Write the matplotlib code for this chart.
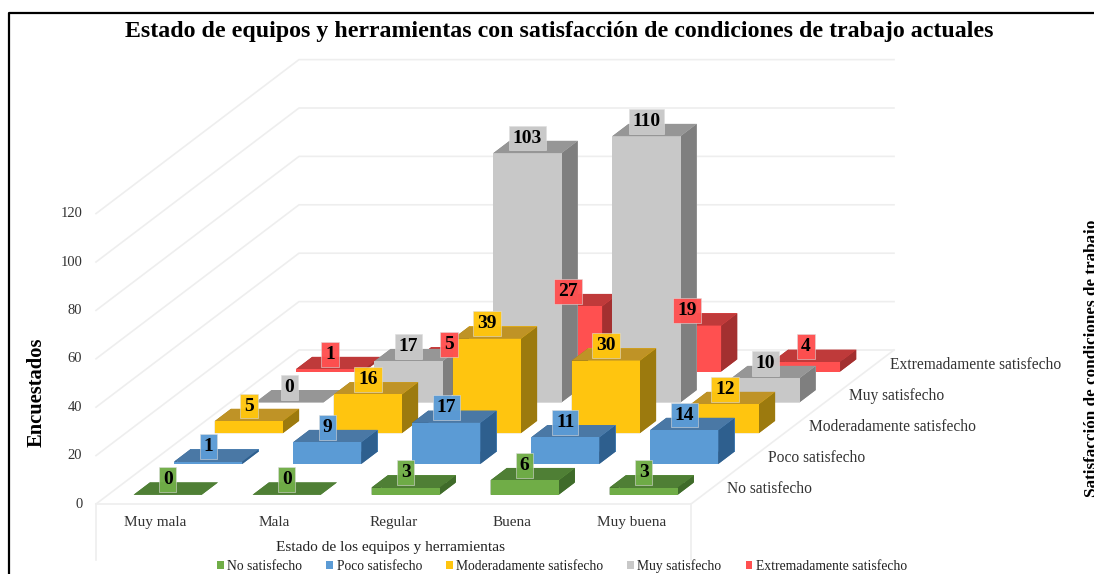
"""
3D column chart: state of tools vs. satisfaction with working conditions.
Uses mplot3d with a fixed oblique projection, as the spreadsheet chart does.
"""

import numpy as np
import matplotlib
matplotlib.use('Agg')
import matplotlib.pyplot as plt
from matplotlib.lines import Line2D
from matplotlib.patches import Patch
from mpl_toolkits.mplot3d import proj3d

plt.rcParams['font.family'] = ['Liberation Serif', 'DejaVu Serif']

# ===== DATA =====

categories = ['Muy mala', 'Mala', 'Regular', 'Buena', 'Muy buena']
series = ['No satisfecho', 'Poco satisfecho', 'Moderadamente satisfecho',
          'Muy satisfecho', 'Extremadamente satisfecho']

no_satisfecho   = [0, 0, 3, 6, 3]
poco_satisfecho = [1, 9, 17, 11, 14]
moderadamente   = [5, 16, 39, 30, 12]
muy_satisfecho  = [0, 17, 103, 110, 10]
extremadamente  = [1, 5, 27, 19, 4]
values = [no_satisfecho, poco_satisfecho, moderadamente, muy_satisfecho, extremadamente]

z_ticks = [0, 20, 40, 60, 80, 100, 120]

# ===== STYLE =====

W, H = 1094, 574

# (front, top, side) colours per series
colors = [('#70AD47', '#4F7F35', '#3F6B2A'),
          ('#5B9BD5', '#4A78A5', '#2E5F8E'),
          ('#FFC50F', '#BF9326', '#9C7A0E'),
          ('#C8C8C8', '#969696', '#7F7F7F'),
          ('#FF5050', '#BF3A3A', '#A33030')]

bar_w = 0.572  # fraction of a category cell
bar_d = 0.40   # fraction of a series row
grid_color = '#EEEEEE'
text_color = '#333333'

# projection: pixels per unit of the data
x0, y0 = 96, 504
per_x = 119.0
dx_row, dy_row = 40.6, 30.8
per_z = 2.42

fig = plt.figure(figsize=(W / 100, H / 100), dpi=100)
ax = fig.add_axes([0, 0, 1, 1], projection='3d')
ax.set_axis_off()
ax.set_proj_type('ortho')  # otherwise Line3D clips everything outside [-1, 1]
ax.computed_zorder = False


def oblique_proj():
    ax.viewLim.intervalx = (0, W)
    ax.viewLim.intervaly = (0, H)
    return np.array([[per_x, dx_row, 0, x0],
                     [0, dy_row, per_z, H - y0],
                     [-0.1, 1.0, -0.01, 0],
                     [0, 0, 0, 1.0]])


ax.get_proj = oblique_proj
ax.apply_aspect = lambda position=None: None


# text placed at a projected data point
def label3d(x, y, z, s, **kw):
    px, py, _ = proj3d.proj_transform(x, y, z, oblique_proj())
    return ax.text2D(px, py, s, **kw)


# ===== WALLS AND FLOOR =====

nx, ny = len(categories), len(series)
for z in z_ticks:
    ax.plot([0, 0, nx], [0, ny, ny], [z, z, z], color=grid_color, lw=1.2, zorder=1)
    label3d(-0.115, 0, z, str(z), ha='right', va='center', fontsize=10.5, color=text_color)
ax.plot([0, nx, nx], [0, 0, ny], [0, 0, 0], color=grid_color, lw=1.2, zorder=1)
ax.plot([0, 0], [0, 0], [0, -23], color=grid_color, lw=1.2, zorder=1)
ax.plot([nx, nx], [0, 0], [0, -23], color=grid_color, lw=1.2, zorder=1)

# ===== BARS =====

for r in range(ny - 1, -1, -1):
    front, top, side = colors[r]
    face_colors = [top, top, front, front, side, side]
    for c in range(nx):
        v = values[r][c]
        xb = c + (1 - bar_w) / 2
        yb = r + (1 - bar_d) / 2
        ax.bar3d(xb, yb, 0, bar_w, bar_d, v, color=face_colors, shade=False,
                 edgecolor='none', linewidth=0, zorder=10 + (ny - r) * 10 + c)
        label3d(c + 0.5, yb, v + 6.2, str(v), ha='center', va='center',
                fontsize=14, fontweight='bold', color='black', zorder=200,
                bbox=dict(boxstyle='square,pad=0.2', fc=front, ec='#DDDDDD', lw=0.4, alpha=0.97))

# ===== AXIS TEXT =====

for c, name in enumerate(categories):
    label3d(c + 0.5, 0, -7.6, name, ha='center', va='center', fontsize=11, color=text_color)
for r, name in enumerate(series):
    label3d(nx + 0.135, r + 0.5, 0, name, ha='left', va='center', fontsize=11.2, color=text_color)

fig.text(559 / W, 1 - 31 / H,
         'Estado de equipos y herramientas con satisfacción de condiciones de trabajo actuales',
         ha='center', va='center', fontsize=17.2, fontweight='bold', color='black')
fig.text(37 / W, 1 - 392 / H, 'Encuestados', rotation=90, ha='center', va='center',
         fontsize=14.8, fontweight='bold', color='black')
fig.text(391 / W, 1 - 548 / H, 'Estado de los equipos y herramientas', ha='center', va='center',
         fontsize=11.1, color='#222222')
fig.text(1092 / W, 1 - 358 / H, 'Satisfacción de condiciones de trabajo', rotation=90,
         ha='center', va='center', fontsize=12.3, fontweight='bold', color='black')

handles = [Patch(facecolor=colors[i][0], label=series[i]) for i in range(ny)]
fig.legend(handles=handles, loc='center', bbox_to_anchor=(562 / W, 1 - 566 / H), ncol=5,
           frameon=False, fontsize=9.85, handlelength=0.5, handleheight=0.5,
           handletextpad=0.25, columnspacing=1.75, borderpad=0, labelcolor='#222222')

# ===== FRAME =====

fig.add_artist(Line2D([9 / W, 9 / W, 1], [0, 1 - 13 / H, 1 - 13 / H], color='black', lw=1.6))

plt.savefig('out.png', dpi=100)
